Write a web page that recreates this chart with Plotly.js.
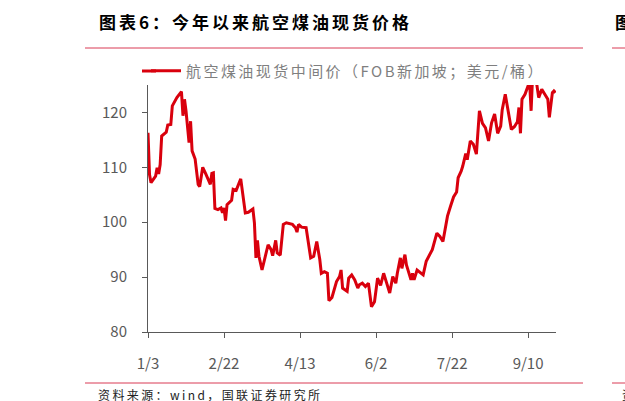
<!DOCTYPE html>
<html>
<head>
<meta charset="utf-8">
<script src="https://cdn.plot.ly/plotly-3.0.1.min.js"></script>
<style>
  html, body { margin: 0; padding: 0; background: #fff; overflow: hidden; }
  #chart { width: 625px; height: 401px; }
</style>
</head>
<body>
<div id="chart"></div>
<script>
// values (USD / barrel)
const dates = [
  '2023-01-03', '2023-01-04', '2023-01-05', '2023-01-08', '2023-01-09', '2023-01-10', '2023-01-11', '2023-01-12',
  '2023-01-15', '2023-01-16', '2023-01-18', '2023-01-19', '2023-01-22', '2023-01-25', '2023-01-26', '2023-01-27',
  '2023-01-28', '2023-01-30', '2023-01-31', '2023-02-01', '2023-02-03', '2023-02-05', '2023-02-06', '2023-02-08',
  '2023-02-10', '2023-02-12', '2023-02-13', '2023-02-14', '2023-02-15', '2023-02-16', '2023-02-18', '2023-02-20',
  '2023-02-21', '2023-02-22', '2023-02-23', '2023-02-24', '2023-02-27', '2023-02-28', '2023-03-02', '2023-03-05',
  '2023-03-08', '2023-03-10', '2023-03-13', '2023-03-14', '2023-03-15', '2023-03-16', '2023-03-17', '2023-03-19',
  '2023-03-21', '2023-03-23', '2023-03-25', '2023-03-26', '2023-03-28', '2023-03-29', '2023-03-31', '2023-04-02',
  '2023-04-04', '2023-04-08', '2023-04-10', '2023-04-11', '2023-04-12', '2023-04-14', '2023-04-17', '2023-04-20',
  '2023-04-22', '2023-04-24', '2023-04-26', '2023-04-27', '2023-04-29', '2023-05-01', '2023-05-02', '2023-05-04',
  '2023-05-07', '2023-05-09', '2023-05-10', '2023-05-11', '2023-05-14', '2023-05-15', '2023-05-17', '2023-05-19',
  '2023-05-21', '2023-05-22', '2023-05-24', '2023-05-26', '2023-05-28', '2023-05-30', '2023-06-01', '2023-06-03',
  '2023-06-05', '2023-06-07', '2023-06-09', '2023-06-11', '2023-06-13', '2023-06-15', '2023-06-16', '2023-06-18',
  '2023-06-19', '2023-06-21', '2023-06-22', '2023-06-25', '2023-06-26', '2023-06-27', '2023-06-29', '2023-07-01',
  '2023-07-03', '2023-07-05', '2023-07-07', '2023-07-09', '2023-07-12', '2023-07-14', '2023-07-16', '2023-07-17',
  '2023-07-19', '2023-07-21', '2023-07-23', '2023-07-25', '2023-07-26', '2023-07-28', '2023-07-29', '2023-07-31',
  '2023-08-01', '2023-08-03', '2023-08-05', '2023-08-07', '2023-08-09', '2023-08-11', '2023-08-13', '2023-08-15',
  '2023-08-17', '2023-08-19', '2023-08-21', '2023-08-23', '2023-08-24', '2023-08-26', '2023-08-28', '2023-08-30',
  '2023-09-01', '2023-09-03', '2023-09-04', '2023-09-05', '2023-09-06', '2023-09-08', '2023-09-11', '2023-09-12',
  '2023-09-13', '2023-09-15', '2023-09-17', '2023-09-19', '2023-09-21', '2023-09-23', '2023-09-24', '2023-09-26',
  '2023-09-27', '2023-09-28'
];
const prices = [
  116.3, 108.7, 107.2, 108.4, 109.9, 108.8, 110.5, 115.7,
  116.4, 117.7, 117.8, 121.2, 122.7, 123.8, 119.4, 122.4,
  120.3, 114.5, 118.4, 113.0, 111.5, 106.9, 106.5, 110.0,
  108.8, 107.5, 106.9, 108.9, 109.0, 102.5, 102.3, 102.6,
  101.7, 102.6, 100.3, 103.2, 104.0, 106.0, 105.8, 107.9,
  101.7, 101.8, 102.4, 99.9, 93.5, 96.7, 93.8, 91.3,
  93.7, 95.9, 95.0, 93.9, 96.7, 94.4, 94.0, 99.6,
  99.9, 99.6, 99.0, 98.2, 99.6, 99.1, 99.0, 93.5,
  93.8, 96.5, 93.2, 90.7, 91.0, 90.7, 85.7, 86.3,
  89.2, 90.1, 91.3, 88.0, 87.4, 89.8, 90.4, 89.5,
  88.0, 88.6, 88.9, 88.3, 88.9, 84.6, 85.5, 89.8,
  88.5, 90.7, 88.9, 87.1, 90.1, 88.9, 90.7, 93.5,
  91.6, 94.1, 92.2, 89.5, 90.7, 89.5, 91.3, 90.8,
  90.4, 92.9, 94.1, 95.0, 98.0, 97.4, 96.5, 98.0,
  101.1, 102.9, 104.6, 105.5, 108.1, 109.3, 110.2, 112.5,
  111.4, 114.8, 114.2, 112.4, 120.3, 118.0, 117.2, 114.8,
  118.1, 119.7, 116.2, 117.5, 120.5, 123.3, 120.0, 116.9,
  117.4, 118.3, 120.9, 116.2, 122.4, 123.3, 125.6, 120.3,
  126.8, 126.5, 122.7, 124.2, 123.3, 122.4, 119.1, 123.6,
  123.9, 123.6
];
const yTicks = [80, 90, 100, 110, 120];
const seriesName = '航空煤油现货中间价（FOB新加坡；美元/桶）';
const chartTitle = '图表6：今年以来航空煤油现货价格';
const sourceNote = '资料来源：wind，国联证券研究所';

const RED = '#d9000d';
const RULE = '#d93a55';
const CJK = '"Noto Sans CJK SC", "Noto Sans", sans-serif';

// plot box in page pixels, used to place the decorations
const L = 148, T = 85, W = 408, H = 247;
const px = (x) => (x - L) / W;
const py = (y) => (T + H - y) / H;
const spaced = (s, n) => `<span style="letter-spacing:${n}px">${s}</span>`;

const trace = {
  type: 'scatter',
  mode: 'lines',
  x: dates,
  y: prices,
  name: spaced(seriesName, 2.45),
  line: { color: RED, width: 3 },
  hoverinfo: 'x+y'
};

const rule = (x0, x1, y) => ({
  type: 'line', xref: 'paper', yref: 'paper',
  x0: px(x0), x1: px(x1), y0: py(y), y1: py(y),
  line: { color: RULE, width: 1 }
});

const layout = {
  width: 625,
  height: 401,
  margin: { l: L, r: 625 - L - W, t: T, b: 401 - T - H },
  paper_bgcolor: '#fff',
  plot_bgcolor: '#fff',
  font: { family: CJK, color: '#595959', size: 15 },
  showlegend: true,
  legend: {
    orientation: 'h',
    x: px(146), xanchor: 'left',
    y: py(71), yanchor: 'middle',
    font: { family: CJK, size: 15, color: '#7f7f7f' },
    bgcolor: 'rgba(0,0,0,0)'
  },
  xaxis: {
    type: 'date',
    range: ['2023-01-03', '2023-09-28 09:00'],
    tick0: '2023-01-03',
    dtick: 50 * 86400000,
    tickformat: '%-m/%-d',
    showgrid: false,
    zeroline: false,
    showline: true,
    linecolor: '#595959',
    linewidth: 1,
    ticks: 'outside',
    ticklen: 5,
    tickcolor: '#595959',
    ticklabelstandoff: 13,
    tickfont: { size: 15, color: '#595959' }
  },
  yaxis: {
    range: [80, 125],
    tickvals: yTicks,
    showgrid: false,
    zeroline: false,
    showline: true,
    linecolor: '#595959',
    linewidth: 1,
    ticks: 'outside',
    ticklen: 5,
    tickcolor: '#595959',
    ticklabelstandoff: 12,
    tickfont: { size: 15, color: '#595959' }
  },
  shapes: [
    rule(85, 583, 48),
    rule(612, 640, 48),
    rule(85, 583, 383),
    rule(612, 640, 383),
    // the legend sample in the reference is a bit longer than plotly's
    {
      type: 'line', xref: 'paper', yref: 'paper',
      x0: px(142), x1: px(156), y0: py(71), y1: py(71),
      line: { color: RED, width: 3 }
    }
  ],
  annotations: [
    {
      xref: 'paper', yref: 'paper', x: px(97), y: py(21),
      xanchor: 'left', yanchor: 'middle', showarrow: false,
      text: '<b>' + spaced(chartTitle, 3) + '</b>',
      font: { family: CJK, size: 17, color: '#000' }
    },
    {
      xref: 'paper', yref: 'paper', x: px(613), y: py(21),
      xanchor: 'left', yanchor: 'middle', showarrow: false,
      text: '<b>图</b>',
      font: { family: CJK, size: 17, color: '#000' }
    },
    {
      xref: 'paper', yref: 'paper', x: px(96), y: py(394),
      xanchor: 'left', yanchor: 'middle', showarrow: false,
      text: spaced(sourceNote, 2.4),
      font: { family: CJK, size: 12, color: '#222' }
    },
    {
      xref: 'paper', yref: 'paper', x: px(620), y: py(394),
      xanchor: 'left', yanchor: 'middle', showarrow: false,
      text: '资',
      font: { family: CJK, size: 12, color: '#222' }
    }
  ]
};

Plotly.newPlot('chart', [trace], layout, { displayModeBar: false, staticPlot: true });
</script>
</body>
</html>
